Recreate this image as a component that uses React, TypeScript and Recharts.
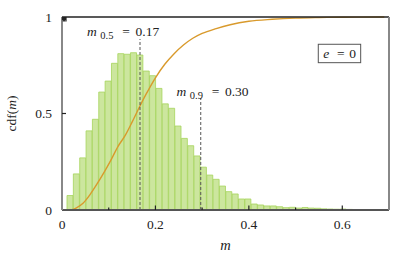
import {
  ComposedChart,
  Bar,
  Line,
  XAxis,
  YAxis,
  ReferenceLine,
  ReferenceDot,
} from "recharts";

// histogram of m: 50 bins of equal width
const BIN_START = 0.0107;
const BIN_WIDTH = 0.0136;
const histDensity = [
  0.075, 0.187, 0.27, 0.41, 0.47, 0.611, 0.668, 0.76, 0.81, 0.807,
  0.815, 0.803, 0.72, 0.696, 0.63, 0.55, 0.527, 0.435, 0.371, 0.333,
  0.28, 0.222, 0.181, 0.159, 0.124, 0.095, 0.083, 0.057, 0.057, 0.031,
  0.026, 0.021, 0.021, 0.017, 0.012, 0.014, 0.01, 0.013, 0.01, 0.009,
  0.006, 0.005, 0.004, 0.005, 0.003, 0.002, 0.002, 0.001, 0.001, 0.001,
];

// cumulative distribution
const cdfM = [
  0.019, 0.03, 0.045, 0.06, 0.075, 0.09, 0.105, 0.12, 0.135, 0.15, 0.165,
  0.18, 0.2, 0.22, 0.24, 0.26, 0.28, 0.3, 0.33, 0.36, 0.4, 0.45, 0.5, 0.55,
  0.6, 0.69,
];
const cdfValue = [
  0, 0.01, 0.035, 0.08, 0.135, 0.195, 0.26, 0.33, 0.385, 0.455, 0.53, 0.6,
  0.685, 0.755, 0.81, 0.855, 0.89, 0.915, 0.94, 0.96, 0.978, 0.988, 0.994,
  0.997, 0.999, 1.0,
];

// quantiles
const quantileP = ["0.5", "0.9"];
const quantileM = [0.167, 0.297];
const quantileLabel = ["0.17", "0.30"];

const xTicks = [0, 0.1, 0.2, 0.3, 0.4, 0.5, 0.6];
const yTicks = [0, 0.5, 1];
const eccentricity = "0";

const binData = histDensity.map((d, i) => ({
  center: BIN_START + (i + 0.5) * BIN_WIDTH,
  density: d,
}));
const cdfData = cdfM.map((m, i) => ({ m, cdf: cdfValue[i] }));

const FONT = "Liberation Serif";
const INK = "#222";
const FS = 13.5;
const txt = { fontFamily: FONT, fontSize: FS };

const isMajor = (v: number) => Math.round(v * 10) % 2 === 0;
const fmt = (v: number) => (v === 0 ? "0" : String(Math.round(v * 10) / 10));
// no tick marks where the tick sits on the frame corner
const onFrame = (v: number) => v === 0 || v === 1;

function BottomTick({ x, y, payload }: any) {
  const major = isMajor(payload.value);
  return (
    <g>
      {!onFrame(payload.value) && (
        <path d={`M${x},${y}V${y - (major ? 4.5 : 2.5)}`} stroke={INK} strokeWidth={1.2} fill="none" />
      )}
      {major && (
        <text x={x} y={y + 19} textAnchor="middle" style={txt} fill={INK}>
          {fmt(payload.value)}
        </text>
      )}
    </g>
  );
}

function TopTick({ x, y, payload }: any) {
  if (onFrame(payload.value)) return null;
  const major = isMajor(payload.value);
  return <path d={`M${x},${y}V${y + (major ? 4.5 : 3)}`} stroke={INK} strokeWidth={1.2} fill="none" />;
}

function LeftTick({ x, y, payload }: any) {
  return (
    <g>
      {!onFrame(payload.value) && (
        <path d={`M${x},${y}H${x + 4}`} stroke={INK} strokeWidth={1.2} fill="none" />
      )}
      <text x={x - 10} y={y + 4.5} textAnchor="end" style={txt} fill={INK}>
        {String(payload.value)}
      </text>
    </g>
  );
}

function RightTick({ x, y, payload }: any) {
  if (onFrame(payload.value)) return null;
  return <path d={`M${x},${y}H${x - 4}`} stroke={INK} strokeWidth={1.2} fill="none" />;
}

function quantileText(i: number) {
  return ({ viewBox }: any) => {
    const x0 = viewBox.x;
    const y0 = viewBox.y;
    return (
      <text style={txt} fill={INK}>
        <tspan x={x0} y={y0} fontStyle="italic">m</tspan>
        <tspan x={x0 + 13.3} y={y0 + 3} style={{ fontSize: 10.5 }}>{quantileP[i]}</tspan>
        <tspan x={x0 + 39} y={y0} textAnchor="middle">=</tspan>
        <tspan x={x0 + 48.5} y={y0}>{quantileLabel[i]}</tspan>
      </text>
    );
  };
}

function legendBox({ viewBox }: any) {
  const cx = viewBox.x;
  const cy = viewBox.y;
  return (
    <g>
      <rect x={cx - 21.2} y={cy - 9.2} width={42.4} height={18.4} fill="#fff" stroke="#555" strokeWidth={1} />
      <text style={txt} fill={INK}>
        <tspan x={cx - 16.2} y={cy + 4.5} fontStyle="italic">e</tspan>
        <tspan x={cx + 1.3} y={cy + 4.5} textAnchor="middle">=</tspan>
        <tspan x={cx + 9.8} y={cy + 4.5}>{eccentricity}</tspan>
      </text>
    </g>
  );
}

export default function App() {
  return (
    <div style={{ position: "absolute", left: 0, top: 0, background: "#fff", fontFamily: FONT }}>
      <ComposedChart
        width={415}
        height={257}
        data={binData}
        margin={{ top: 16, right: 25, bottom: 0, left: 0 }}
        barCategoryGap={0}
        barGap={0}
      >
        <XAxis
          xAxisId="m"
          dataKey="m"
          type="number"
          domain={[0, 0.7]}
          ticks={xTicks}
          interval={0}
          height={47}
          tickSize={0}
          tickMargin={0}
          tickLine={false}
          tick={<BottomTick />}
          axisLine={{ stroke: "#555", strokeWidth: 1.8 }}
          label={({ viewBox }: any) => (
            <text
              x={viewBox.x + viewBox.width / 2}
              y={viewBox.y + 40}
              textAnchor="middle"
              style={{ fontFamily: FONT, fontSize: FS + 1, fontStyle: "italic" }}
              fill={INK}
            >
              m
            </text>
          )}
        />
        <XAxis xAxisId="bins" dataKey="center" type="number" domain={[0, 0.7]} height={0} hide />
        <XAxis
          xAxisId="top"
          orientation="top"
          type="number"
          domain={[0, 0.7]}
          ticks={xTicks}
          interval={0}
          height={1}
          tickSize={0}
          tickMargin={0}
          tickLine={false}
          tick={<TopTick />}
          axisLine={false}
        />
        <YAxis
          type="number"
          domain={[0, 1]}
          ticks={yTicks}
          interval={0}
          width={62}
          tickSize={0}
          tickMargin={0}
          tickLine={false}
          tick={<LeftTick />}
          axisLine={{ stroke: "#888", strokeWidth: 2 }}
          label={({ viewBox }: any) => (
            <text
              transform={`translate(${viewBox.x + 15.5}, ${viewBox.y + viewBox.height / 2}) rotate(-90)`}
              textAnchor="middle"
              style={txt}
              fill={INK}
            >
              cdf(<tspan fontStyle="italic">m</tspan>)
            </text>
          )}
        />
        <YAxis
          yAxisId="right"
          orientation="right"
          type="number"
          domain={[0, 1]}
          ticks={yTicks}
          interval={0}
          width={1}
          tickSize={0}
          tickMargin={0}
          tickLine={false}
          tick={<RightTick />}
          axisLine={{ stroke: "#888", strokeWidth: 2 }}
        />
        <Bar
          xAxisId="bins"
          dataKey="density"
          fill="#cce69e"
          stroke="#a6d45c"
          strokeWidth={0.8}
          isAnimationActive={false}
        />
        <Line
          xAxisId="m"
          data={cdfData}
          dataKey="cdf"
          type="monotone"
          stroke="#d99a2c"
          strokeWidth={1.4}
          dot={false}
          activeDot={false}
          isAnimationActive={false}
        />
        <ReferenceLine xAxisId="m" y={1} stroke="#222" strokeWidth={1.3} />
        <ReferenceLine
          xAxisId="m"
          segment={[{ x: quantileM[0], y: 0 }, { x: quantileM[0], y: 0.886 }]}
          stroke="#555"
          strokeDasharray="3 2"
        />
        <ReferenceLine
          xAxisId="m"
          segment={[{ x: quantileM[1], y: 0 }, { x: quantileM[1], y: 0.58 }]}
          stroke="#555"
          strokeDasharray="3 2"
        />
        <ReferenceDot xAxisId="m" x={0.0536} y={0.904} r={0} fill="none" stroke="none" label={quantileText(0)} />
        <ReferenceDot xAxisId="m" x={0.245} y={0.591} r={0} fill="none" stroke="none" label={quantileText(1)} />
        <ReferenceDot xAxisId="m" x={0.594} y={0.811} r={0} fill="none" stroke="none" label={legendBox} />
      </ComposedChart>
    </div>
  );
}
